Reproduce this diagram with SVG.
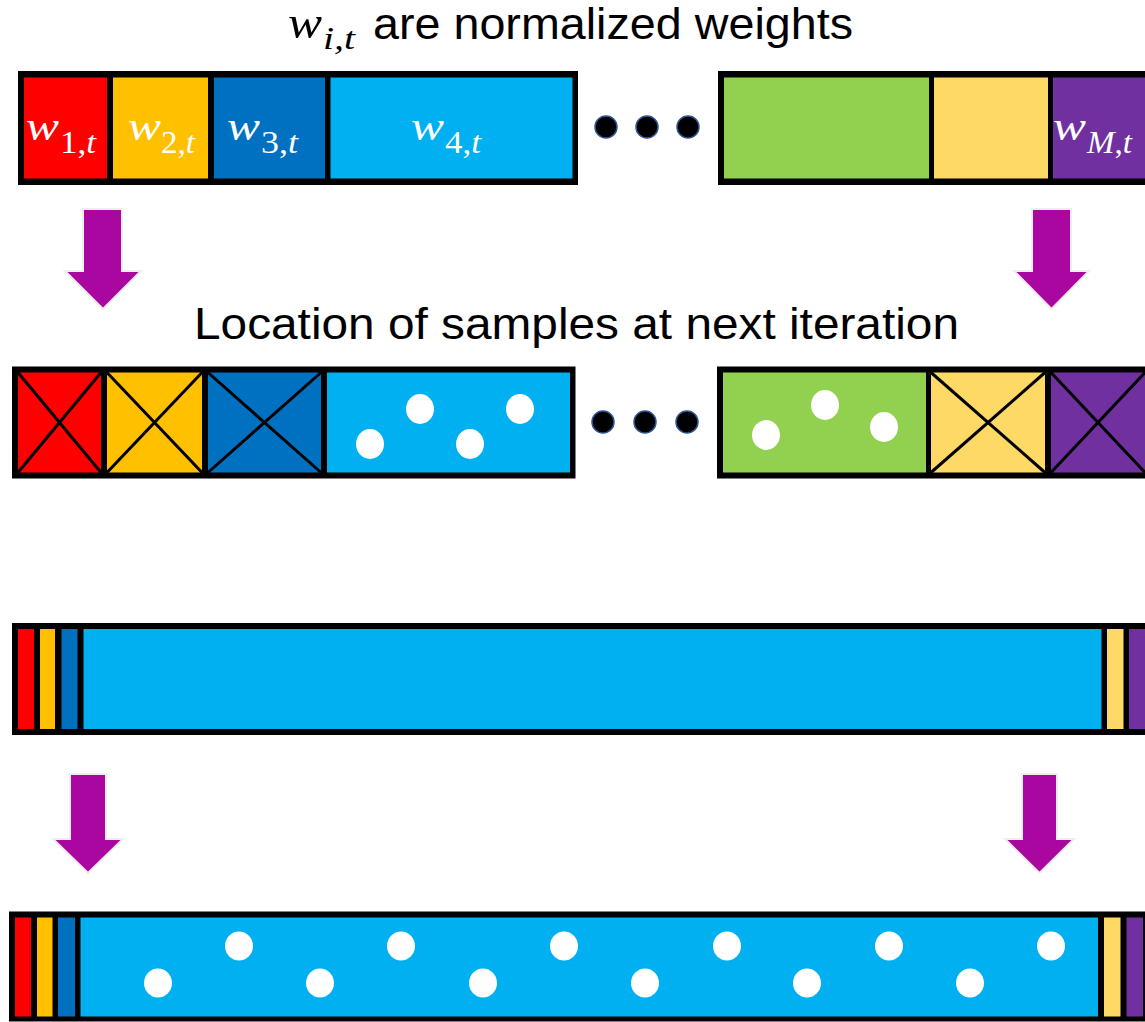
<svg xmlns="http://www.w3.org/2000/svg" width="1145" height="1022" viewBox="0 0 1145 1022">
  <style>
    .frame { fill: #000000; }
    .red { fill: #FF0000; }
    .yel { fill: #FFC000; }
    .dbl { fill: #0070C0; }
    .lbl { fill: #00B0F0; }
    .grn { fill: #92D050; }
    .lye { fill: #FFD966; }
    .pur { fill: #7030A0; }
    .x { stroke: #000000; stroke-width: 3; fill: none; }
    .dot { fill: #FFFFFF; }
    .ell { fill: #000000; stroke: #2F5597; stroke-width: 1.5; }
    .arrow { fill: #AA07A0; stroke: #EEEEEE; stroke-width: 2; stroke-linejoin: miter; }
    .title { font-family: "Liberation Sans", Arial, sans-serif; font-size: 44px; fill: #000000; }
    .mw { font-family: "Liberation Serif", "Times New Roman", serif; font-style: italic; }
    .ms { font-family: "Liberation Serif", "Times New Roman", serif; }
    .lab { fill: #FFFFFF; }
  </style>

  <!-- Titles -->
  <g id="title-weights">
    <text class="mw" x="288" y="38" font-size="46" textLength="34" lengthAdjust="spacingAndGlyphs">w</text>
    <text class="mw" x="323" y="49" font-size="31" textLength="32" lengthAdjust="spacingAndGlyphs">i,t</text>
    <text class="title" x="373" y="39" textLength="480" lengthAdjust="spacingAndGlyphs">are normalized weights</text>
  </g>
  <g id="title-location">
    <text class="title" x="194" y="339" textLength="765" lengthAdjust="spacingAndGlyphs">Location of samples at next iteration</text>
  </g>

  <!-- Row 1: weights, left part -->
  <g id="weights-left">
    <rect class="frame" x="18" y="71" width="560" height="114"/>
    <rect class="red" x="24" y="77.5" width="83" height="101"/>
    <rect class="yel" x="113" y="77.5" width="95" height="101"/>
    <rect class="dbl" x="214" y="77.5" width="111" height="101"/>
    <rect class="lbl" x="330.5" y="77.5" width="242" height="101"/>
    <g class="lab">
      <text class="mw" x="26" y="140" font-size="42" textLength="33" lengthAdjust="spacingAndGlyphs">w</text>
      <text x="60" y="153" font-size="31" textLength="36" lengthAdjust="spacingAndGlyphs"><tspan class="ms">1,</tspan><tspan class="mw">t</tspan></text>
      <text class="mw" x="128" y="140" font-size="42" textLength="33" lengthAdjust="spacingAndGlyphs">w</text>
      <text x="161" y="153" font-size="31" textLength="34" lengthAdjust="spacingAndGlyphs"><tspan class="ms">2,</tspan><tspan class="mw">t</tspan></text>
      <text class="mw" x="227" y="140" font-size="42" textLength="33" lengthAdjust="spacingAndGlyphs">w</text>
      <text x="261" y="153" font-size="31" textLength="37" lengthAdjust="spacingAndGlyphs"><tspan class="ms">3,</tspan><tspan class="mw">t</tspan></text>
      <text class="mw" x="411" y="140" font-size="42" textLength="33" lengthAdjust="spacingAndGlyphs">w</text>
      <text x="445" y="153" font-size="31" textLength="36" lengthAdjust="spacingAndGlyphs"><tspan class="ms">4,</tspan><tspan class="mw">t</tspan></text>
    </g>
  </g>

  <g id="ellipsis-1">
    <circle class="ell" cx="606" cy="127" r="11"/>
    <circle class="ell" cx="647" cy="127" r="11"/>
    <circle class="ell" cx="688" cy="127" r="11"/>
  </g>

  <!-- Row 1: weights, right part -->
  <g id="weights-right">
    <rect class="frame" x="718" y="71" width="440" height="114"/>
    <rect class="grn" x="724" y="77.5" width="205" height="101"/>
    <rect class="lye" x="934" y="77.5" width="114" height="101"/>
    <rect class="pur" x="1053" y="77.5" width="100" height="101"/>
    <g class="lab">
      <text class="mw" x="1053" y="140" font-size="42" textLength="33" lengthAdjust="spacingAndGlyphs">w</text>
      <text x="1087" y="153" font-size="31" textLength="45" lengthAdjust="spacingAndGlyphs"><tspan class="mw">M</tspan><tspan class="ms">,</tspan><tspan class="mw">t</tspan></text>
    </g>
  </g>

  <!-- Row 2: sample locations, left part -->
  <g id="samples-left">
    <rect class="frame" x="12" y="366.5" width="563.5" height="112"/>
    <rect class="red" x="18" y="372.5" width="83" height="100"/>
    <rect class="yel" x="107" y="372.5" width="95" height="100"/>
    <rect class="dbl" x="208" y="372.5" width="113" height="100"/>
    <rect class="lbl" x="327" y="372.5" width="243" height="100"/>
    <path class="x" d="M18 372.5 L101 472.5 M101 372.5 L18 472.5"/>
    <path class="x" d="M107 372.5 L202 472.5 M202 372.5 L107 472.5"/>
    <path class="x" d="M208 372.5 L321 472.5 M321 372.5 L208 472.5"/>
    <ellipse class="dot" cx="420" cy="409" rx="14" ry="15"/>
    <ellipse class="dot" cx="520" cy="409" rx="14" ry="15"/>
    <ellipse class="dot" cx="370" cy="444" rx="14" ry="15"/>
    <ellipse class="dot" cx="470" cy="444" rx="14" ry="15"/>
  </g>

  <g id="ellipsis-2">
    <circle class="ell" cx="603" cy="422" r="11"/>
    <circle class="ell" cx="645" cy="422" r="11"/>
    <circle class="ell" cx="687" cy="422" r="11"/>
  </g>

  <!-- Row 2: sample locations, right part -->
  <g id="samples-right">
    <rect class="frame" x="717" y="366.5" width="440" height="112"/>
    <rect class="grn" x="723" y="372.5" width="203" height="100"/>
    <rect class="lye" x="931" y="372.5" width="114" height="100"/>
    <rect class="pur" x="1051" y="372.5" width="94" height="100"/>
    <path class="x" d="M931 372.5 L1045 472.5 M1045 372.5 L931 472.5"/>
    <path class="x" d="M1051 372.5 L1145 472.5 M1145 372.5 L1051 472.5"/>
    <ellipse class="dot" cx="766" cy="435" rx="14" ry="15"/>
    <ellipse class="dot" cx="825" cy="405" rx="14" ry="15"/>
    <ellipse class="dot" cx="884" cy="427" rx="14" ry="15"/>
  </g>

  <!-- Row 3: dominant-weight bar -->
  <g id="weights-degenerate">
    <rect class="frame" x="12" y="623" width="1145" height="112"/>
    <rect class="red" x="18" y="629" width="16" height="100"/>
    <rect class="yel" x="40" y="629" width="15" height="100"/>
    <rect class="dbl" x="61.5" y="629" width="16" height="100"/>
    <rect class="lbl" x="83.5" y="629" width="1018" height="100"/>
    <rect class="lye" x="1107" y="629" width="16.5" height="100"/>
    <rect class="pur" x="1129" y="629" width="20" height="100"/>
  </g>

  <!-- Row 4: resampled locations -->
  <g id="samples-degenerate">
    <rect class="frame" x="9" y="911.5" width="1140" height="110"/>
    <rect class="red" x="15" y="917.5" width="16" height="99"/>
    <rect class="yel" x="37" y="917.5" width="15.5" height="99"/>
    <rect class="dbl" x="58" y="917.5" width="17" height="99"/>
    <rect class="lbl" x="80.5" y="917.5" width="1017.5" height="99"/>
    <rect class="lye" x="1104" y="917.5" width="16.5" height="99"/>
    <rect class="pur" x="1126.5" y="917.5" width="16.5" height="99"/>
    <g>
      <ellipse class="dot" cx="239" cy="946" rx="14" ry="14.5"/>
      <ellipse class="dot" cx="401" cy="946" rx="14" ry="14.5"/>
      <ellipse class="dot" cx="564" cy="946" rx="14" ry="14.5"/>
      <ellipse class="dot" cx="727" cy="946" rx="14" ry="14.5"/>
      <ellipse class="dot" cx="889" cy="946" rx="14" ry="14.5"/>
      <ellipse class="dot" cx="1051" cy="946" rx="14" ry="14.5"/>
      <ellipse class="dot" cx="158" cy="983" rx="14" ry="14.5"/>
      <ellipse class="dot" cx="320" cy="983" rx="14" ry="14.5"/>
      <ellipse class="dot" cx="483" cy="983" rx="14" ry="14.5"/>
      <ellipse class="dot" cx="645" cy="983" rx="14" ry="14.5"/>
      <ellipse class="dot" cx="807" cy="983" rx="14" ry="14.5"/>
      <ellipse class="dot" cx="970" cy="983" rx="14" ry="14.5"/>
    </g>
  </g>

  <!-- Connectors: block arrows -->
  <g id="connectors">
    <path class="arrow" d="M83 209 L122 209 L122 271 L141 271 L103 309 L65 271 L83 271 Z"/>
    <path class="arrow" d="M1032 209 L1071 209 L1071 271 L1089 271 L1051.5 309 L1014 271 L1032 271 Z"/>
    <path class="arrow" d="M70 774 L106 774 L106 839 L123 839 L88 873 L53 839 L70 839 Z"/>
    <path class="arrow" d="M1022 774 L1057 774 L1057 839 L1074 839 L1039.5 873 L1005 839 L1022 839 Z"/>
  </g>
</svg>
